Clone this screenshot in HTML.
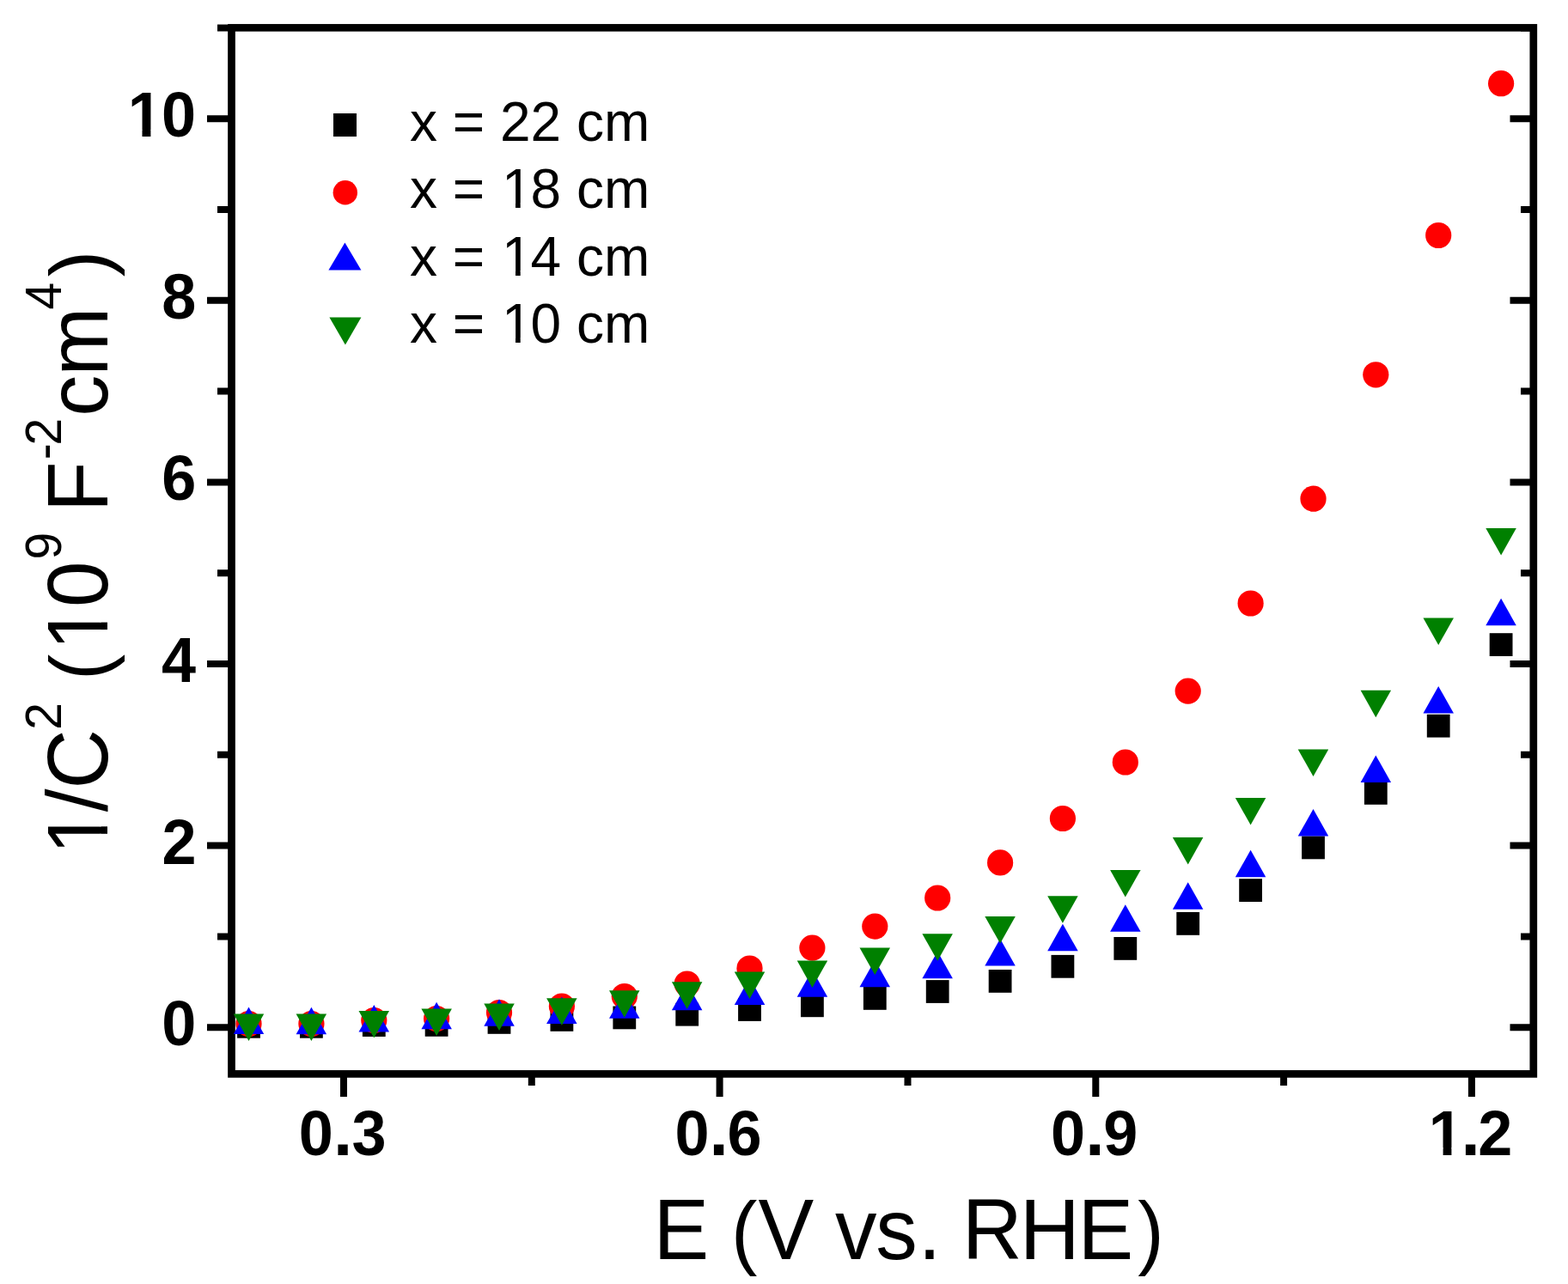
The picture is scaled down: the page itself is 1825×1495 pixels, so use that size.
<!DOCTYPE html>
<html><head><meta charset="utf-8"><title>Mott-Schottky plot</title>
<style>html,body{margin:0;padding:0;background:#fff;overflow:hidden;}svg{display:block;}</style>
</head><body>
<svg width="1825" height="1495" viewBox="0 0 1825 1495">
<rect x="269.5" y="32.3" width="1515.3" height="1218.1" fill="none" stroke="#000" stroke-width="8.7"/>
<path d="M241 1196.2H269.5M1784.8 1196.2H1757.5M253 1090.4H269.5M1784.8 1090.4H1770M241 984.6H269.5M1784.8 984.6H1757.5M253 878.8H269.5M1784.8 878.8H1770M241 773.0H269.5M1784.8 773.0H1757.5M253 667.2H269.5M1784.8 667.2H1770M241 561.4H269.5M1784.8 561.4H1757.5M253 455.6H269.5M1784.8 455.6H1770M241 349.8H269.5M1784.8 349.8H1757.5M253 244.0H269.5M1784.8 244.0H1770M241 138.2H269.5M1784.8 138.2H1757.5M253 32.4H269.5M1784.8 32.4H1770M400.0 1250.4V1277M837.6 1250.4V1277M1275.3 1250.4V1277M1712.9 1250.4V1277M618.8 1250.4V1264M1056.5 1250.4V1264M1494.1 1250.4V1264" stroke="#000" stroke-width="8" fill="none"/>
<text transform="translate(0,1217.2) scale(1,1.04)" x="188.3" y="0" font-family="Liberation Sans, Arial, sans-serif" font-weight="bold" font-size="72" xml:space="preserve">0</text>
<text transform="translate(0,1005.6) scale(1,1.04)" x="188.5" y="0" font-family="Liberation Sans, Arial, sans-serif" font-weight="bold" font-size="72" xml:space="preserve">2</text>
<text transform="translate(0,794.0) scale(1,1.04)" x="187.9" y="0" font-family="Liberation Sans, Arial, sans-serif" font-weight="bold" font-size="72" xml:space="preserve">4</text>
<text transform="translate(0,582.4) scale(1,1.04)" x="188.3" y="0" font-family="Liberation Sans, Arial, sans-serif" font-weight="bold" font-size="72" xml:space="preserve">6</text>
<text transform="translate(0,370.8) scale(1,1.04)" x="188.2" y="0" font-family="Liberation Sans, Arial, sans-serif" font-weight="bold" font-size="72" xml:space="preserve">8</text>
<text transform="translate(0,159.2) scale(1,1.04)" x="148.7 188.0" y="0" font-family="Liberation Sans, Arial, sans-serif" font-weight="bold" font-size="72" xml:space="preserve">10</text>
<text transform="translate(0,1344.5) scale(1,1.04)" y="0" font-family="Liberation Sans, Arial, sans-serif" font-weight="bold" font-size="72" xml:space="preserve"><tspan x="347.7">0</tspan><tspan x="387.9" font-size="80">.</tspan><tspan x="409.5">3</tspan></text>
<text transform="translate(0,1344.5) scale(1,1.04)" y="0" font-family="Liberation Sans, Arial, sans-serif" font-weight="bold" font-size="72" xml:space="preserve"><tspan x="785.4">0</tspan><tspan x="825.6" font-size="80">.</tspan><tspan x="846.6">6</tspan></text>
<text transform="translate(0,1344.5) scale(1,1.04)" y="0" font-family="Liberation Sans, Arial, sans-serif" font-weight="bold" font-size="72" xml:space="preserve"><tspan x="1223.0">0</tspan><tspan x="1263.2" font-size="80">.</tspan><tspan x="1284.3">9</tspan></text>
<text transform="translate(0,1344.5) scale(1,1.04)" y="0" font-family="Liberation Sans, Arial, sans-serif" font-weight="bold" font-size="72" xml:space="preserve"><tspan x="1662.7">1</tspan><tspan x="1700.4" font-size="80">.</tspan><tspan x="1720.3">2</tspan></text>
<g fill="#000"><rect x="276.1" y="1181.9" width="26.8" height="26.8"/><rect x="349.0" y="1181.9" width="26.8" height="26.8"/><rect x="421.9" y="1180.2" width="26.8" height="26.8"/><rect x="494.7" y="1180.0" width="26.8" height="26.8"/><rect x="567.6" y="1177.0" width="26.8" height="26.8"/><rect x="640.5" y="1174.0" width="26.8" height="26.8"/><rect x="713.4" y="1171.5" width="26.8" height="26.8"/><rect x="786.3" y="1167.8" width="26.8" height="26.8"/><rect x="859.1" y="1162.1" width="26.8" height="26.8"/><rect x="932.0" y="1157.4" width="26.8" height="26.8"/><rect x="1004.9" y="1149.0" width="26.8" height="26.8"/><rect x="1077.8" y="1141.1" width="26.8" height="26.8"/><rect x="1150.7" y="1129.0" width="26.8" height="26.8"/><rect x="1223.5" y="1111.9" width="26.8" height="26.8"/><rect x="1296.4" y="1091.0" width="26.8" height="26.8"/><rect x="1369.3" y="1062.0" width="26.8" height="26.8"/><rect x="1442.2" y="1023.2" width="26.8" height="26.8"/><rect x="1515.1" y="973.5" width="26.8" height="26.8"/><rect x="1587.9" y="910.0" width="26.8" height="26.8"/><rect x="1660.8" y="831.8" width="26.8" height="26.8"/><rect x="1733.7" y="737.2" width="26.8" height="26.8"/></g>
<g fill="#ff0000"><circle cx="289.5" cy="1192.0" r="15.1"/><circle cx="362.4" cy="1192.0" r="15.1"/><circle cx="435.3" cy="1188.0" r="15.1"/><circle cx="508.1" cy="1186.0" r="15.1"/><circle cx="581.0" cy="1179.0" r="15.1"/><circle cx="653.9" cy="1171.5" r="15.1"/><circle cx="726.8" cy="1160.0" r="15.1"/><circle cx="799.7" cy="1145.5" r="15.1"/><circle cx="872.5" cy="1127.5" r="15.1"/><circle cx="945.4" cy="1103.6" r="15.1"/><circle cx="1018.3" cy="1078.6" r="15.1"/><circle cx="1091.2" cy="1045.5" r="15.1"/><circle cx="1164.1" cy="1004.4" r="15.1"/><circle cx="1236.9" cy="953.0" r="15.1"/><circle cx="1309.8" cy="887.5" r="15.1"/><circle cx="1382.7" cy="804.6" r="15.1"/><circle cx="1455.6" cy="702.5" r="15.1"/><circle cx="1528.5" cy="580.7" r="15.1"/><circle cx="1601.3" cy="436.3" r="15.1"/><circle cx="1674.2" cy="274.0" r="15.1"/><circle cx="1747.1" cy="97.2" r="15.1"/></g>
<g fill="#0000ff"><polygon points="289.5,1172.5 307.2,1204.0 271.8,1204.0"/><polygon points="362.4,1172.7 380.1,1204.2 344.6,1204.2"/><polygon points="435.3,1170.0 453.0,1201.5 417.5,1201.5"/><polygon points="508.1,1166.8 525.9,1198.3 490.4,1198.3"/><polygon points="581.0,1163.3 598.8,1194.8 563.3,1194.8"/><polygon points="653.9,1160.5 671.6,1192.0 636.1,1192.0"/><polygon points="726.8,1154.2 744.5,1185.8 709.0,1185.8"/><polygon points="799.7,1144.8 817.4,1176.3 781.9,1176.3"/><polygon points="872.5,1138.5 890.3,1170.0 854.8,1170.0"/><polygon points="945.4,1129.3 963.2,1160.8 927.7,1160.8"/><polygon points="1018.3,1117.8 1036.0,1149.3 1000.5,1149.3"/><polygon points="1091.2,1107.8 1108.9,1139.3 1073.4,1139.3"/><polygon points="1164.1,1093.0 1181.8,1124.5 1146.3,1124.5"/><polygon points="1236.9,1075.8 1254.7,1107.3 1219.2,1107.3"/><polygon points="1309.8,1053.3 1327.6,1084.8 1292.1,1084.8"/><polygon points="1382.7,1027.2 1400.4,1058.8 1364.9,1058.8"/><polygon points="1455.6,989.8 1473.3,1021.2 1437.8,1021.2"/><polygon points="1528.5,942.0 1546.2,973.5 1510.7,973.5"/><polygon points="1601.3,879.5 1619.1,911.0 1583.6,911.0"/><polygon points="1674.2,799.0 1692.0,830.5 1656.5,830.5"/><polygon points="1747.1,696.8 1764.8,728.2 1729.3,728.2"/></g>
<g fill="#008000"><polygon points="271.8,1180.5 307.2,1180.5 289.5,1212.0"/><polygon points="344.6,1180.5 380.1,1180.5 362.4,1212.0"/><polygon points="417.5,1177.0 453.0,1177.0 435.3,1208.5"/><polygon points="490.4,1174.5 525.9,1174.5 508.1,1206.0"/><polygon points="563.3,1168.5 598.8,1168.5 581.0,1200.0"/><polygon points="636.1,1162.2 671.6,1162.2 653.9,1193.8"/><polygon points="709.0,1153.2 744.5,1153.2 726.8,1184.8"/><polygon points="781.9,1143.2 817.4,1143.2 799.7,1174.8"/><polygon points="854.8,1131.5 890.3,1131.5 872.5,1163.0"/><polygon points="927.7,1118.5 963.2,1118.5 945.4,1150.0"/><polygon points="1000.5,1103.5 1036.0,1103.5 1018.3,1135.0"/><polygon points="1073.4,1087.3 1108.9,1087.3 1091.2,1118.8"/><polygon points="1146.3,1067.0 1181.8,1067.0 1164.1,1098.5"/><polygon points="1219.2,1043.2 1254.7,1043.2 1236.9,1074.7"/><polygon points="1292.1,1013.0 1327.6,1013.0 1309.8,1044.5"/><polygon points="1364.9,975.0 1400.4,975.0 1382.7,1006.5"/><polygon points="1437.8,928.9 1473.3,928.9 1455.6,960.4"/><polygon points="1510.7,872.5 1546.2,872.5 1528.5,904.0"/><polygon points="1583.6,803.8 1619.1,803.8 1601.3,835.2"/><polygon points="1656.5,719.5 1692.0,719.5 1674.2,751.0"/><polygon points="1729.3,614.9 1764.8,614.9 1747.1,646.4"/></g>
<rect x="388" y="132" width="27" height="27" fill="#000"/><circle cx="401.8" cy="224.3" r="14.2" fill="#ff0000"/><polygon points="401.4,282.5 420.4,314.5 382.4,314.5" fill="#0000ff"/><polygon points="383.4,369.5 420.4,369.5 401.9,401.5" fill="#008000"/>
<text transform="translate(0,163.5) scale(1,1.0)" x="477.0 509.0 526.8 564.2 581.9 617.5 653.1 670.9 702.9" y="0" font-family="Liberation Sans, Arial, sans-serif" font-size="64" xml:space="preserve">x = 22 cm</text>
<text transform="translate(0,242.0) scale(1,1.0)" x="477.0 509.0 526.8 564.2 583.9 617.5 653.1 670.9 702.9" y="0" font-family="Liberation Sans, Arial, sans-serif" font-size="64" xml:space="preserve">x = 18 cm</text>
<text transform="translate(0,320.5) scale(1,1.0)" x="477.0 509.0 526.8 564.2 583.9 617.5 653.1 670.9 702.9" y="0" font-family="Liberation Sans, Arial, sans-serif" font-size="64" xml:space="preserve">x = 14 cm</text>
<text transform="translate(0,399.0) scale(1,1.0)" x="477.0 509.0 526.8 564.2 583.9 617.5 653.1 670.9 702.9" y="0" font-family="Liberation Sans, Arial, sans-serif" font-size="64" xml:space="preserve">x = 10 cm</text>
<text transform="translate(0,1466.0) scale(1,1.04)" y="0" font-family="Liberation Sans, Arial, sans-serif" font-size="97" xml:space="preserve"><tspan x="760.6">E</tspan> <tspan x="851.0" font-size="91.3">(</tspan><tspan x="882.6">V</tspan> <tspan x="972.0">v</tspan><tspan x="1019.3">s</tspan><tspan x="1068.4">.</tspan> <tspan x="1119.8">R</tspan><tspan x="1186.7">H</tspan><tspan x="1254.5">E</tspan><tspan x="1324.2" font-size="91.3">)</tspan></text>
<g transform="translate(124.5,0) rotate(-90) scale(1,1.04)"><text font-family="Liberation Sans, Arial, sans-serif" xml:space="preserve"><tspan x="-994.9" y="0.0" font-size="96">1</tspan><tspan x="-945.2" y="0.0" font-size="96">/</tspan><tspan x="-918.4" y="0.0" font-size="96">C</tspan><tspan x="-849.7" y="-51.4" font-size="57">2</tspan><tspan font-size="96"> </tspan><tspan x="-791.9" y="0.0" font-size="91.0">(</tspan><tspan x="-757.2" y="0.0" font-size="96">1</tspan><tspan x="-707.0" y="0.0" font-size="96">0</tspan><tspan x="-651.6" y="-51.4" font-size="57">9</tspan><tspan font-size="96"> </tspan><tspan x="-595.9" y="0.0" font-size="96">F</tspan><tspan x="-535.3" y="-51.4" font-size="57">-</tspan><tspan x="-518.4" y="-51.4" font-size="57">2</tspan><tspan x="-484.8" y="0.0" font-size="96">c</tspan><tspan x="-437.8" y="0.0" font-size="96">m</tspan><tspan x="-360.6" y="-51.4" font-size="57">4</tspan><tspan x="-322.3" y="0.0" font-size="91.0">)</tspan></text><rect x="-988.4" y="-7.8" width="17.6" height="9.3" fill="#fff"/><rect x="-962.3" y="-7.8" width="16.9" height="9.3" fill="#fff"/><rect x="-750.7" y="-7.8" width="17.6" height="9.3" fill="#fff"/><rect x="-724.6" y="-7.8" width="16.9" height="9.3" fill="#fff"/></g>
<g fill="#fff"><rect x="152.4" y="151.0" width="13.1" height="9.7"/><rect x="175.4" y="151.0" width="12.2" height="9.7"/><rect x="1666.5" y="1336.3" width="13.1" height="9.7"/><rect x="1689.4" y="1336.3" width="12.2" height="9.7"/><rect x="588.0" y="236.6" width="12.0" height="6.9"/><rect x="605.7" y="236.6" width="11.5" height="6.9"/><rect x="588.0" y="315.1" width="12.0" height="6.9"/><rect x="605.7" y="315.1" width="11.5" height="6.9"/><rect x="588.0" y="393.6" width="12.0" height="6.9"/><rect x="605.7" y="393.6" width="11.5" height="6.9"/></g>
</svg>
</body></html>
